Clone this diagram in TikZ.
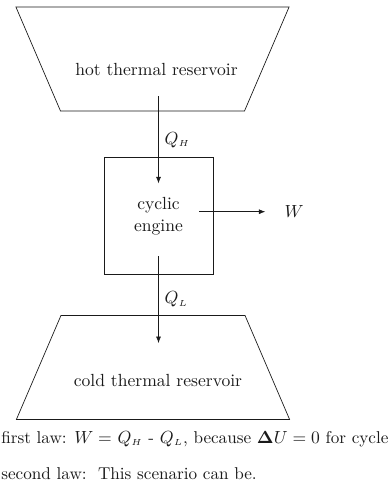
\documentclass[tikz,border=0pt]{standalone}
\usepackage{xcolor}
\usepackage{tikz}
\usetikzlibrary{shapes.geometric, arrows.meta, positioning, calc}
\definecolor{ink}{HTML}{1A1A1A}
\tikzset{
  reservoir/.style={trapezium, draw=ink, trapezium left angle=66.8, trapezium right angle=66.8, inner xsep=18.4mm, inner ysep=10.4mm},
  enginebox/.style={rectangle, draw=ink, text=ink, align=center, minimum width=21.8mm, minimum height=23.4mm, inner sep=0pt},
  restext/.style={text=ink},
  flow/.style={-{Latex[length=1.3mm, width=1mm]}, color=ink},
  lawtext/.style={text=ink, inner sep=0pt, font=\fontsize{9.75}{12}\selectfont},
}
\begin{document}
\begin{tikzpicture}[node distance=8mm]
  \useasboundingbox (0,0) rectangle (77.8mm,-100.2mm);
  \node[reservoir, shape border rotate=180] (hot) at (30.5mm,-11.8mm) {};
  \node[restext] (hottext) at ([xshift=0.8mm, yshift=-2mm]hot.center) {hot thermal reservoir};
  \node[enginebox, below=9.2mm of hot.south, xshift=1.2mm] (engine) {cyclic\\engine};
  \node[reservoir, below=8mm of engine.south, xshift=-1.1mm] (cold) {};
  \node[restext] (coldtext) at ([xshift=1mm, yshift=-2.6mm]cold.center) {cold thermal reservoir};
  \coordinate (qhtop) at ($(hot.south -| engine.center)+(0,3mm)$);
  \coordinate (qhend) at ([yshift=-5.2mm]engine.north);
  \coordinate (qltop) at ([yshift=3.8mm]engine.south);
  \coordinate (qlend) at ($(cold.north -| engine.center)+(0,-5.6mm)$);
  \coordinate (wstart) at ([xshift=-2.8mm, yshift=0.9mm]engine.east);
  \coordinate (wend) at ([xshift=10.4mm, yshift=0.9mm]engine.east);
  \node[restext, right=2.6mm of wend] (work) {$W$};
  \draw[flow] (qhtop) -- node[right, text=ink] (qh) {$Q_{\scriptscriptstyle H}$} (qhend);
  \draw[flow] (qltop) -- node[right, text=ink] (ql) {$Q_{\scriptscriptstyle L}$} (qlend);
  \draw[flow] (wstart) -- (wend);
  \node[lawtext, anchor=west] (first) at (0.2mm,-87.8mm) {first law: $W =$ $Q_{\scriptscriptstyle H}$ - $Q_{\scriptscriptstyle L}$, because $\mathbf{\Delta} U = 0$ for cycle};
  \node[lawtext, below=7mm of first.west, anchor=west] (second) {second law:\ \ This scenario can be.};
\end{tikzpicture}
\end{document}
